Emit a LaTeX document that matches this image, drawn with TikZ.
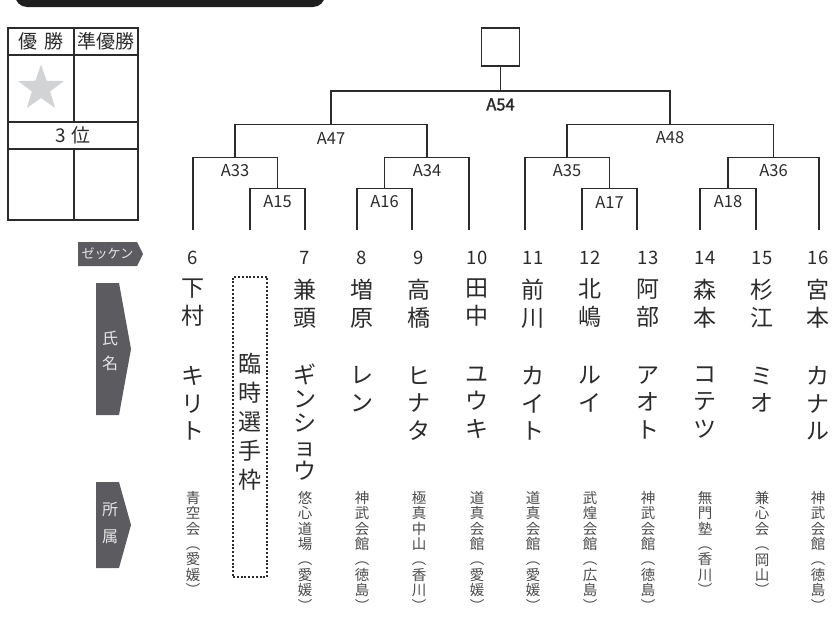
\documentclass[tikz,border=0pt]{standalone}
\usepackage{fontspec}
\setmainfont{Noto Sans CJK JP}
\newfontfamily\heavyfont[FakeBold=2]{Noto Sans CJK JP}
\usetikzlibrary{shapes.geometric,positioning}

\definecolor{ink}{HTML}{2B2B2B}
\definecolor{tagfill}{HTML}{5C5C60}
\definecolor{tagtext}{HTML}{E6E6E6}
\definecolor{stargray}{HTML}{D2D3D5}

\tikzset{
  bracket/.style={draw=ink, line width=1.6pt},
  cell/.style={draw=ink, line width=1.4pt},
  cellfont/.style={font=\fontsize{19}{21}\selectfont, text=ink, inner sep=0pt},
  matchlbl/.style={font=\fontsize{16.5}{18}\selectfont, text=ink, inner sep=0pt, yshift=-13.5pt},
  bibno/.style={font=\fontsize{18.5}{20}\selectfont, text=ink, inner sep=0pt, anchor=base},
  surname/.style={font=\fontsize{23}{28}\selectfont, text=ink, inner sep=0pt, anchor=north, align=center},
  given/.style={font=\fontsize{23}{27.5}\selectfont, text=ink, inner sep=0pt, anchor=north, align=center},
  tight/.style={font=\fontsize{23}{24}\selectfont},
  club/.style={font=\fontsize{14.5}{15.4}\selectfont, text=ink!85, inner sep=0pt, anchor=north, align=center},
  tag/.style={fill=tagfill},
  tagtxt/.style={text=tagtext, inner sep=0pt, align=center},
}

\begin{document}
\begin{tikzpicture}[x=1pt, y=-1pt]
  \useasboundingbox (0,0) rectangle (832,621);

  % title bar
  \fill[black!88, rounded corners=12pt] (15,-30) rectangle (325,7);

  % result table
  \draw[cell] (8,28) rectangle (138,220);
  \draw[cell] (8,55) -- (138,55) (8,122) -- (138,122) (8,149) -- (138,149);
  \draw[cell] (74,28) -- (74,122) (74,149) -- (74,220);
  \node[cellfont] (first) at (41,41.5) {優\hspace{7pt}勝};
  \node[cellfont] (second) at (106,41.5) {準優勝};
  \node[cellfont] (third) at (73,135.5) {3\hspace{6pt}位};
  \node[star, star points=5, star point ratio=2.5, minimum size=48pt,
        fill=stargray, inner sep=0pt] (mark) at (41,88.5) {};

  % row tags
  \fill[tag] (78,242) -- (137,242) -- (143,254) -- (137,266) -- (78,266) -- cycle;
  \node[tagtxt, font=\fontsize{13}{13}\selectfont] (zekken) at (107.5,254) {ゼッケン};
  \fill[tag] (96,283) -- (119,283) -- (131,349) -- (119,415) -- (96,415) -- cycle;
  \node[tagtxt, font=\fontsize{16}{25}\selectfont] (shimei) at (110,350.5) {氏\\名};
  \fill[tag] (96,482) -- (119,482) -- (131,525) -- (119,568) -- (96,568) -- cycle;
  \node[tagtxt, font=\fontsize{16}{27}\selectfont] (shozoku) at (110,523.5) {所\\属};

  % players
  \foreach \id/\tx/\lx/\gy/\gs/\sur/\giv/\org in {
    6/193/193/366.5/{}/{下\\村}/{キ\\リ\\ト}/{青\\空\\会\\︵\\愛\\媛\\︶},
    7/305/305/363.5/tight/{兼\\頭}/{ギ\\ン\\シ\\ョ\\ウ}/{悠\\心\\道\\場\\︵\\愛\\媛\\︶},
    8/362/357/366.5/{}/{増\\原}/{レ\\ン}/{神\\武\\会\\館\\︵\\徳\\島\\︶},
    9/419/412/366.5/{}/{高\\橋}/{ヒ\\ナ\\タ}/{極\\真\\中\\山\\︵\\香\\川\\︶},
    10/477/469/366.5/{}/{田\\中}/{ユ\\ウ\\キ}/{道\\真\\会\\館\\︵\\愛\\媛\\︶},
    11/533/525/366.5/{}/{前\\川}/{カ\\イ\\ト}/{道\\真\\会\\館\\︵\\愛\\媛\\︶},
    12/590/582/366.5/{}/{北\\嶋}/{ル\\イ}/{武\\煌\\会\\館\\︵\\広\\島\\︶},
    13/648/637/366.5/{}/{阿\\部}/{ア\\オ\\ト}/{神\\武\\会\\館\\︵\\徳\\島\\︶},
    14/705/700/366.5/{}/{森\\本}/{コ\\テ\\ツ}/{無\\門\\塾\\︵\\香\\川\\︶},
    15/762/756/366.5/{}/{杉\\江}/{ミ\\オ}/{兼\\心\\会\\︵\\岡\\山\\︶},
    16/818/819/366.5/{}/{宮\\本}/{カ\\ナ\\ル}/{神\\武\\会\\館\\︵\\徳\\島\\︶}} {
    \coordinate (p\id) at (\lx,230);
    \node[bibno] (num\id) at (\tx,264) {\id};
    \node[surname] (sur\id) at (\tx,278.5) {\sur};
    \node[given,\gs] (giv\id) at (\tx,\gy) {\giv};
    \node[club] (org\id) at (\tx,491) {\org};
  }

  % open slot
  \coordinate (pr) at (250,230);
  \node[draw=ink, line width=1.1pt, dash pattern=on 2pt off 1.8pt,
        minimum width=34pt, minimum height=300pt] (rinbox) at (250,427) {};
  \node[surname, font=\fontsize{23}{29}\selectfont] (rintxt) at (250,353) {臨\\時\\選\\手\\枠};

  % match points
  \coordinate (m15) at (277.5,188.5);
  \coordinate (m16) at (384.5,188.5);
  \coordinate (m17) at (609.5,188.5);
  \coordinate (m18) at (728,188.5);
  \coordinate (m33) at (235,157.5);
  \coordinate (m34) at (427,157.5);
  \coordinate (m35) at (567,157.5);
  \coordinate (m36) at (773.5,157.5);
  \coordinate (m47) at (331,124.5);
  \coordinate (m48) at (670,124.5);
  \coordinate (m54) at (500.5,91);
  \node[draw=ink, line width=1.6pt, minimum size=38pt, inner sep=0pt] (champ) at (500.5,47) {};

  \draw[bracket] (pr) |- (m15) -| (p7);
  \draw[bracket] (p8) |- (m16) -| (p9);
  \draw[bracket] (p12) |- (m17) -| (p13);
  \draw[bracket] (p14) |- (m18) -| (p15);
  \draw[bracket] (p6) |- (m33) -| (m15);
  \draw[bracket] (m16) |- (m34) -| (p10);
  \draw[bracket] (p11) |- (m35) -| (m17);
  \draw[bracket] (m18) |- (m36) -| (p16);
  \draw[bracket] (m33) |- (m47) -| (m34);
  \draw[bracket] (m35) |- (m48) -| (m36);
  \draw[bracket] (m47) |- (m54) -| (m48);
  \draw[bracket] (m54) -- (champ);

  \foreach \m in {15,16,17,18,33,34,35,36,47,48}
    \node[matchlbl] (lbl\m) at (m\m) {A\m};
  \node[matchlbl, font=\heavyfont\fontsize{16.5}{18}\selectfont] (lbl54) at (m54) {A54};
\end{tikzpicture}
\end{document}
